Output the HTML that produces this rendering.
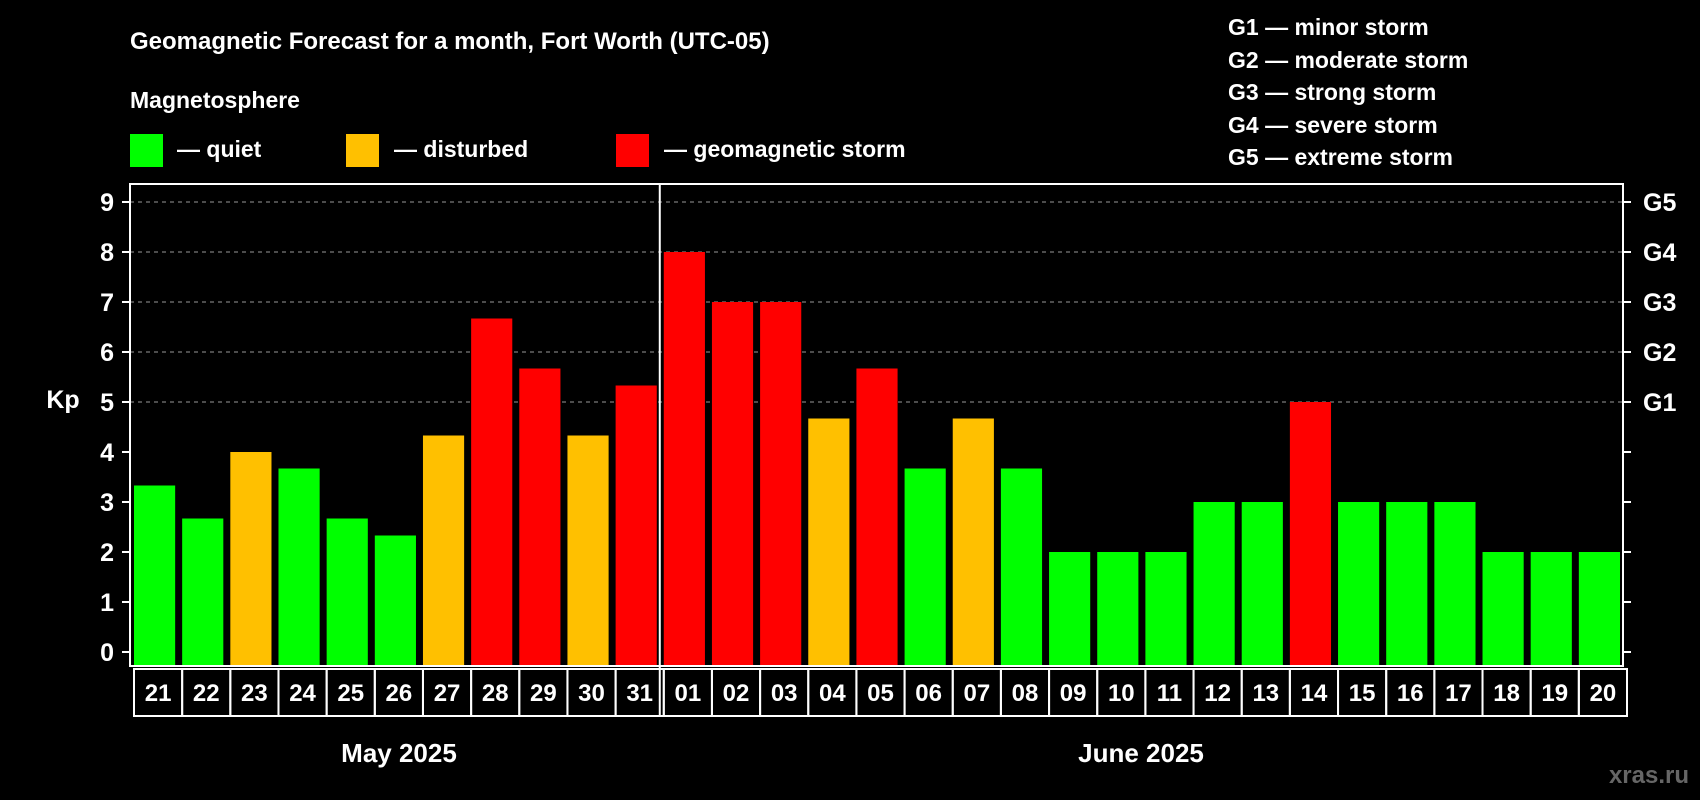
<!DOCTYPE html>
<html><head><meta charset="utf-8"><style>
html,body{margin:0;padding:0;background:#000;width:1700px;height:800px;overflow:hidden}
svg{display:block;font-family:"Liberation Sans",Arial,sans-serif;font-weight:bold}
</style></head><body>
<svg id="chart" width="1700" height="800" viewBox="0 0 1700 800">
<rect width="1700" height="800" fill="#000"/>
<text x="130" y="49" font-size="24" fill="#fff">Geomagnetic Forecast for a month, Fort Worth (UTC-05)</text>
<text x="130" y="108" font-size="23" fill="#fff">Magnetosphere</text>
<g><rect x="130" y="134" width="33" height="33" fill="#00ff00"/><text x="177" y="157" font-size="23" fill="#fff">— quiet</text></g>
<g><rect x="346" y="134" width="33" height="33" fill="#ffc000"/><text x="394" y="157" font-size="23" fill="#fff">— disturbed</text></g>
<g><rect x="616" y="134" width="33" height="33" fill="#ff0000"/><text x="664" y="157" font-size="23" fill="#fff">— geomagnetic storm</text></g>
<g font-size="23" fill="#fff">
<text x="1228" y="35">G1 — minor storm</text>
<text x="1228" y="68">G2 — moderate storm</text>
<text x="1228" y="100">G3 — strong storm</text>
<text x="1228" y="133">G4 — severe storm</text>
<text x="1228" y="165">G5 — extreme storm</text>
</g>
<text x="63" y="408" font-size="25" fill="#fff" text-anchor="middle">Kp</text>
<g id="grid"></g><g id="bars"></g><g id="axes"></g>
<text x="399" y="762" font-size="26" fill="#fff" text-anchor="middle">May 2025</text>
<text x="1141" y="762" font-size="26" fill="#fff" text-anchor="middle">June 2025</text>
<text x="1689" y="783" font-size="24" fill="#666" text-anchor="end">xras.ru</text>
</svg>
<script>
const days = ["21","22","23","24","25","26","27","28","29","30","31","01","02","03","04","05","06","07","08","09","10","11","12","13","14","15","16","17","18","19","20"];
const kp = [3.33,2.67,4,3.67,2.67,2.33,4.33,6.67,5.67,4.33,5.33,8,7,7,4.67,5.67,3.67,4.67,3.67,2,2,2,3,3,5,3,3,3,2,2,2];
const yTicks = [0,1,2,3,4,5,6,7,8,9];
const gLabels = ["G1","G2","G3","G4","G5"];
const gLevels = [5,6,7,8,9];
const NS="http://www.w3.org/2000/svg";
const L=130,R=1623,T=184,B=666;
const slot=(R-L)/days.length;
const y=v=>652-50*v;
const x=i=>L+i*slot;
function mk(t,a,p){const e=document.createElementNS(NS,t);for(const k in a)e.setAttribute(k,a[k]);p.appendChild(e);return e;}
const grid=document.getElementById('grid'),bars=document.getElementById('bars'),axes=document.getElementById('axes');
gLevels.forEach(v=>{const l=mk('line',{x1:L,x2:R,y1:y(v),y2:y(v),stroke:'#999','stroke-dasharray':'4,4','stroke-width':1},grid);

});
kp.forEach((v,i)=>{const c=v<4?'#00ff00':(v<5?'#ffc000':'#ff0000');
const r=mk('rect',{x:x(i)+4,y:y(v),width:slot-7,height:B-y(v),fill:c},bars);

});
mk('rect',{x:L,y:T,width:R-L,height:B-T,fill:'none',stroke:'#fff','stroke-width':2},axes);
const dv=mk('line',{x1:x(11),x2:x(11),y1:T,y2:B+50,stroke:'#fff','stroke-width':2},axes);


yTicks.forEach(v=>{mk('line',{x1:L-8,x2:L,y1:y(v),y2:y(v),stroke:'#fff','stroke-width':2},axes);
mk('line',{x1:R,x2:R+8,y1:y(v),y2:y(v),stroke:'#fff','stroke-width':2},axes);
const t=mk('text',{x:L-16,y:y(v)+9,'font-size':25,fill:'#fff','text-anchor':'end'},axes);t.textContent=v;

});
gLabels.forEach((g,i)=>{const t=mk('text',{x:1643,y:y(gLevels[i])+9,'font-size':25,fill:'#fff'},axes);t.textContent=g;

});
days.forEach((d,i)=>{mk('rect',{x:x(i)+4,y:669,width:slot,height:47,fill:'none',stroke:'#fff','stroke-width':2},axes);
const t=mk('text',{x:x(i)+4+slot/2,y:701,'font-size':24,fill:'#fff','text-anchor':'middle'},axes);t.textContent=d;

});
</script>
</body></html>
